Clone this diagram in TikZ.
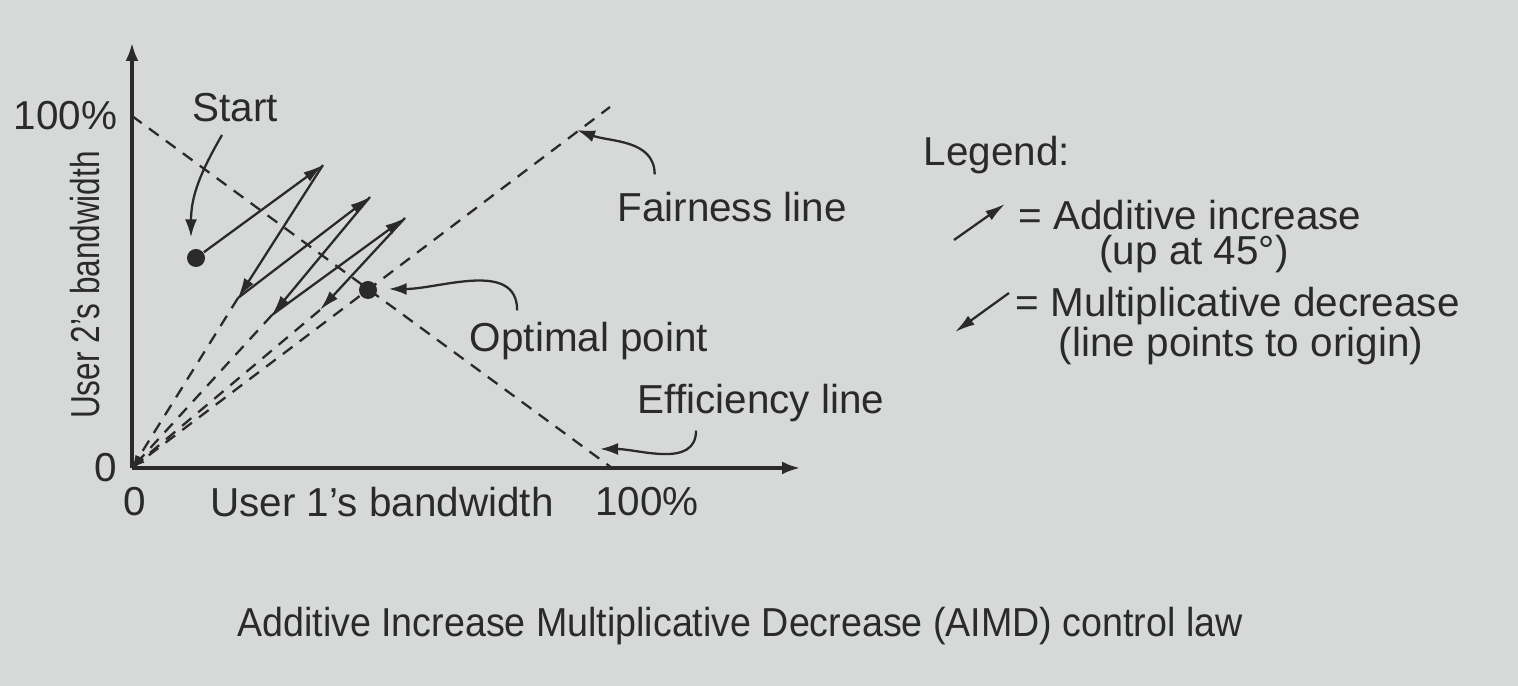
\documentclass[tikz,border=0pt]{standalone}
\usepackage{fontspec}
\setmainfont{Liberation Sans}
\usepackage{tikz}
\usetikzlibrary{positioning,arrows.meta}
\usepackage{xcolor}
\definecolor{slidebg}{RGB}{214,217,216}
\definecolor{ink}{RGB}{42,42,42}

\begin{document}
\begin{tikzpicture}[x=0.01cm, y=0.01cm, every node/.style={font=\fontsize{11.5}{13.8}\selectfont, text=ink, inner sep=0pt}]
\tikzstyle{axis}=[-{Latex[length=0.18cm, width=0.13cm]}, ink, line width=0.9pt]
\tikzstyle{guide}=[ink, line width=0.65pt, dash pattern=on 0.12cm off 0.09cm]
\tikzstyle{toorigin}=[guide, -{Latex[length=0.13cm, width=0.08cm]}]
\tikzstyle{move}=[-{Latex[length=0.2cm, width=0.11cm]}, ink, line width=0.65pt]
\tikzstyle{callout}=[-{Latex[length=0.18cm, width=0.12cm]}, ink, line width=0.65pt]
\tikzstyle{dot}=[circle, fill=ink, minimum size=0.18cm, inner sep=0pt]
\fill[slidebg] (0,0) rectangle (1518,686);
\useasboundingbox (0,0) rectangle (1518,686);
% axes
\coordinate (O) at (132,218);
\coordinate (ytop) at (132,643);
\coordinate (xend) at (800,218);
\draw[axis] (O) -- (ytop);
\draw[axis] (O) -- (xend);
\node[anchor=east] (yfull) at (118,570) {100\%};
\node[anchor=east] (yzero) at (118,218) {0};
\node (xzero) at (135,184) {0};
\node (xlabel) at (382,184) {User 1’s bandwidth};
\node (xfull) at (647,184) {100\%};
\node[rotate=90] (ylabel) at (85,401) {\scalebox{0.78}[1]{User 2’s bandwidth}};
% efficiency and fairness lines
\coordinate (e1) at (132,570);
\coordinate (e2) at (612,218);
\coordinate (f2) at (610,579);
\draw[guide] (e1) -- (e2);
\draw[guide] (O) -- (f2);
% AIMD path
\node[dot] (start) at (196,428) {};
\node[dot] (opt) at (368,396) {};
\coordinate (a1) at (323,521);
\coordinate (b1) at (238,388);
\coordinate (a2) at (370,489);
\coordinate (b2) at (272,371);
\coordinate (a3) at (405,468);
\coordinate (b3) at (320,376);
\draw[move] (start) -- (a1);
\draw[move] (a1) -- (b1);
\draw[move] (b1) -- (a2);
\draw[move] (a2) -- (b2);
\draw[move] (b2) -- (a3);
\draw[move] (a3) -- (b3);
\draw[toorigin] (b1) -- (O);
\draw[toorigin] (b2) -- (O);
\draw[toorigin] (b3) -- (O);
% labels with pointers
\node (lblstart) at (235,578) {Start};
\draw[callout] ([shift={(-13,-12)}]lblstart.south) to[out=240, in=90] ([shift={(-5,11)}]start.north);
\node (lblopt) at (589,345) {Optimal point};
\draw[callout] ([shift={(48,11)}]lblopt.north west) to[out=90, in=0] ([shift={(11,1)}]opt.east);
\node (lbleff) at (761,283) {Efficiency line};
\coordinate (effpt) at (600,237);
\draw[callout] ([shift={(59,-8)}]lbleff.south west) to[out=-90, in=0] (effpt);
\node (lblfair) at (732,479) {Fairness line};
\coordinate (fairpt) at (577,556);
\draw[callout] ([shift={(38,17)}]lblfair.north west) to[out=90, in=-20] (fairpt);
% legend
\node[anchor=west] (legend) at (923,531) {Legend:};
\node[anchor=west] (aitext) at (1018,471) {= Additive increase};
\node (aisub) at (1194,432) {(up at 45°)};
\node[anchor=west] (mdtext) at (1015,380) {= Multiplicative decrease};
\node (mdsub) at (1241,340) {(line points to origin)};
\coordinate (ai0) at (954,446);
\coordinate (ai1) at (1005,482);
\coordinate (md0) at (1009,393);
\coordinate (md1) at (955,354);
\draw[move] (ai0) -- (ai1);
\draw[move] (md0) -- (md1);
% caption
\node (caption) at (740,60) {\scalebox{0.93}[1]{Additive Increase Multiplicative Decrease (AIMD) control law}};
\end{tikzpicture}
\end{document}
